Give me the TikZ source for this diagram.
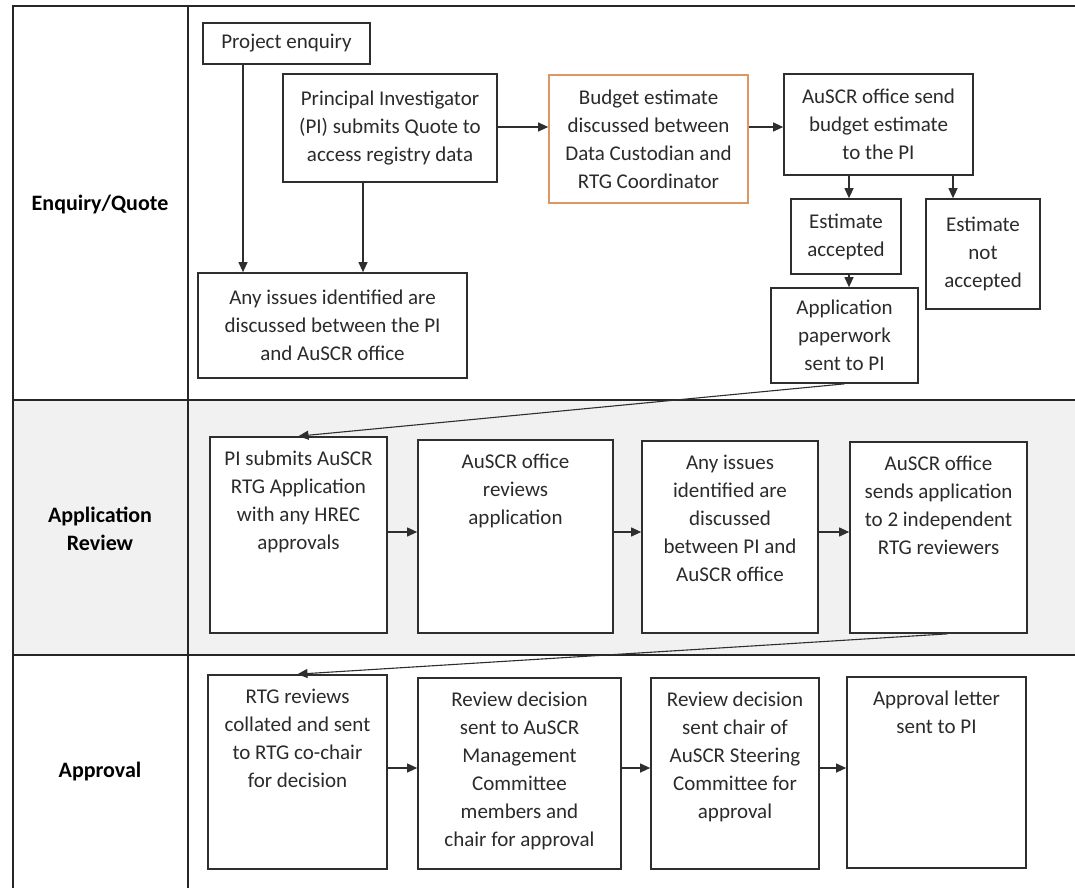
\documentclass[tikz,border=0pt]{standalone}
\usepackage{fontspec}
\setmainfont{Carlito}
\usetikzlibrary{arrows.meta,fit}
\definecolor{ln}{HTML}{2E2E2E}
\definecolor{tx}{HTML}{2B2B2B}
\definecolor{org}{RGB}{222,150,100}
\definecolor{band}{HTML}{F1F1F1}
\tikzset{
 box/.style={draw=ln, line width=1.7pt, inner sep=0pt, fill=white},
 obox/.style={box, draw=org},
 txt/.style={align=center, text=tx, font=\fontsize{21}{28}\selectfont, inner sep=0pt},
 lab/.style={align=center, text=black, font=\fontsize{22}{28}\selectfont\bfseries},
 arr/.style={draw=ln, line width=1.1pt, -{Triangle[length=10pt,width=9pt]}},
 grid/.style={draw=black!85, line width=1.8pt}
}
\begin{document}
\begin{tikzpicture}[x=1pt,y=-1pt]
\useasboundingbox (0,0) rectangle (1075,888);
\fill[white] (0,0) rectangle (1075,888);
\fill[band] (13,400) rectangle (1075,655);
\draw[grid] (1075,6) -- (13,6) -- (13,888);
\draw[grid] (188,6) -- (188,888);
\draw[grid] (13,400) -- (1075,400);
\draw[grid] (13,655) -- (1075,655);

% row labels
\node[lab] (l1) at (100,205) {Enquiry/Quote};
\node[lab] (l2) at (100,529) {Application\\Review};
\node[lab] (l3) at (100,772) {Approval};

% row 1
\node[box, fit={(203,23) (370,64)}] (pe) {};
\node[txt] at (pe) {Project enquiry};
\node[box, fit={(283,74) (497,182)}] (piq) {};
\node[txt] at (piq) {Principal Investigator\\(PI) submits Quote to\\access registry data};
\node[box, fit={(198,273) (467,378)}] (iss) {};
\node[txt] at (iss) {Any issues identified are\\discussed between the PI\\and AuSCR office};
\node[obox, fit={(549,75) (748,203)}] (bud) {};
\node[txt] at (bud) {Budget estimate\\discussed between\\Data Custodian and\\RTG Coordinator};
\node[box, fit={(784,74) (973,175)}] (snd) {};
\node[txt] at (snd) {AuSCR office send\\budget estimate\\to the PI};
\node[box, fit={(791,199) (901,274)}] (acc) {};
\node[txt] at (acc) {Estimate\\accepted};
\node[box, fit={(926,199) (1040,309)}] (nac) {};
\node[txt] at (nac) {Estimate\\not\\accepted};
\node[box, fit={(771,288) (918,383)}] (app) {};
\node[txt] at (app) {Application\\paperwork\\sent to PI};

\draw[arr] (pe.south -| 243,0) -- (iss.north -| 243,0);
\draw[arr] (piq.south -| 363,0) -- (iss.north -| 363,0);
\draw[arr] (piq.east |- 0,127) -- (bud.west |- 0,127);
\draw[arr] (bud.east |- 0,127) -- (snd.west |- 0,127);
\draw[arr] (snd.south -| 849,0) -- (acc.north -| 849,0);
\draw[arr] (snd.south -| 953,0) -- (nac.north -| 953,0);
\draw[arr] (acc.south -| 849,0) -- (app.north -| 849,0);

% row 2
\node[box, fit={(210,437) (387,633)}] (pis) {};
\node[txt, anchor=north] at ([yshift=-15pt]pis.north) {PI submits AuSCR\\RTG Application\\with any HREC\\approvals};
\node[box, fit={(418,440) (613,633)}] (rev) {};
\node[txt, anchor=north] at ([yshift=-15pt]rev.north) {AuSCR office\\reviews\\application};
\node[box, fit={(642,441) (818,633)}] (iss2) {};
\node[txt, anchor=north] at ([yshift=-15pt]iss2.north) {Any issues\\identified are\\discussed\\between PI and\\AuSCR office};
\node[box, fit={(850,442) (1027,633)}] (sends) {};
\node[txt, anchor=north] at ([yshift=-15pt]sends.north) {AuSCR office\\sends application\\to 2 independent\\RTG reviewers};

\draw[arr] (app.south) -- (pis.north);
\draw[arr] (pis.east |- 0,532) -- (rev.west |- 0,532);
\draw[arr] (rev.east |- 0,532) -- (iss2.west |- 0,532);
\draw[arr] (iss2.east |- 0,532) -- (sends.west |- 0,532);

% row 3
\node[box, fit={(208,675) (387,869)}] (rtg) {};
\node[txt, anchor=north] at ([yshift=-15pt]rtg.north) {RTG reviews\\collated and sent\\to RTG co-chair\\for decision};
\node[box, fit={(418,678) (621,869)}] (dec) {};
\node[txt, anchor=north] at ([yshift=-15pt]dec.north) {Review decision\\sent to AuSCR\\Management\\Committee\\members and\\chair for approval};
\node[box, fit={(651,678) (819,869)}] (chr) {};
\node[txt, anchor=north] at ([yshift=-15pt]chr.north) {Review decision\\sent chair of\\AuSCR Steering\\Committee for\\approval};
\node[box, fit={(847,677) (1026,868)}] (let) {};
\node[txt, anchor=north] at ([yshift=-15pt]let.north) {Approval letter\\sent to PI};

\draw[arr] ([xshift=9pt]sends.south) -- (rtg.north);
\draw[arr] (rtg.east |- 0,768) -- (dec.west |- 0,768);
\draw[arr] (dec.east |- 0,768) -- (chr.west |- 0,768);
\draw[arr] (chr.east |- 0,768) -- (let.west |- 0,768);
\end{tikzpicture}
\end{document}
